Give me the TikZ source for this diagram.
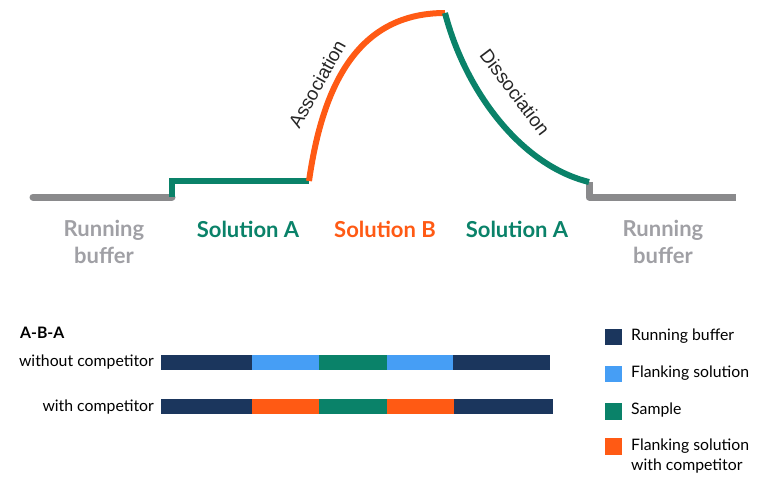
\documentclass[tikz,border=0pt]{standalone}
\usepackage{fontspec}
\setmainfont{Lato}
\newfontfamily\arialfont{Liberation Sans}
\usetikzlibrary{positioning}

\begin{document}
\begin{tikzpicture}[x=1pt,y=-1pt]
% ------------------------------------------------ sensorgram colors
\definecolor{sg_gray}{RGB}{138,138,140}   %#8A8A8C
\definecolor{sg_lgray}{RGB}{160,160,165}  %#A0A0A5
\definecolor{sg_green}{RGB}{10,130,105}   %#0A8269
\definecolor{sg_orange}{RGB}{255,90,20}   %#FF5A14
\definecolor{sg_navy}{RGB}{27,54,93}      %#1B365D
\definecolor{sg_sky}{RGB}{70,158,245}     %#469EF5

\tikzset{
  toplabel/.style={font=\fontsize{22}{27}\selectfont\bfseries, align=center, inner sep=0pt},
  rowlabel/.style={font=\fontsize{15.8}{19}\selectfont, anchor=east, inner sep=0pt},
  keylabel/.style={font=\fontsize{15.8}{20}\selectfont, anchor=west, align=left, inner sep=0pt},
  curvelabel/.style={font=\arialfont\fontsize{19}{22}\selectfont, text=black!85, inner sep=0pt}
}

\useasboundingbox (0,0) rectangle (761,485);

%
%  baseline y=197, plateau A y=181, top y=13
%
\coordinate (rb1) at (33,197);
\coordinate (stepA) at (172,197);
\coordinate (solA) at (309,181);
\coordinate (peak) at (445,13);
\coordinate (endA) at (589,182);
\coordinate (rb2) at (736,197);

% ---------------------------------------------  sensorgram trace
\draw [line width=7pt,color=sg_gray,line cap=round] (rb1) -- (stepA);
\draw [line width=7pt,color=sg_gray,line join=round] (endA) -- (589,197) -- (rb2);
\draw [line width=6.5pt,color=sg_green] (stepA) -- (172,181) -- (solA);
\draw [line width=6pt,color=sg_orange] (solA) .. controls (322,90) and (355,13) .. (peak);
\draw [line width=6pt,color=sg_green] (peak) .. controls (465,90) and (520,165) .. (endA);

\node[curvelabel,rotate=61] (assoc) at (317,84) {Association};
\node[curvelabel,rotate=-53] (dissoc) at (515,92) {Dissociation};

% ---------------------------------------------  phase labels
\node[toplabel,text=sg_lgray] (rbL) at (104,242) {Running\\buffer};
\node[toplabel,text=sg_green] (sAL) at (248,229) {Solution A};
\node[toplabel,text=sg_orange] (sB) at (385,229) {Solution B};
\node[toplabel,text=sg_green] (sAR) at (517,229) {Solution A};
\node[toplabel,text=sg_lgray] (rbR) at (663,242) {Running\\buffer};

% ---------------------------------------------  injection bars
\node[font=\fontsize{15.8}{19}\selectfont\bfseries, anchor=west, inner sep=0pt] (aba) at (20,333) {A-B-A};
\node[rowlabel] (without) at (154,362) {without competitor};
\node[rowlabel] (with) at (154,407) {with competitor};

\fill[sg_navy]   (161,355) rectangle (252,370);
\fill[sg_sky]    (252,355) rectangle (319,370);
\fill[sg_green]  (319,355) rectangle (387,370);
\fill[sg_sky]    (387,355) rectangle (453,370);
\fill[sg_navy]   (453,355) rectangle (550,370);

\fill[sg_navy]   (161,399) rectangle (252,414);
\fill[sg_orange] (252,399) rectangle (319,414);
\fill[sg_green]  (319,399) rectangle (387,414);
\fill[sg_orange] (387,399) rectangle (454,414);
\fill[sg_navy]   (454,399) rectangle (553,414);

% ---------------------------------------------  legend
\fill[sg_navy]   (605,329) rectangle (622,345);
\fill[sg_sky]    (605,366) rectangle (622,382);
\fill[sg_green]  (605,403) rectangle (622,420);
\fill[sg_orange] (605,438) rectangle (622,455);

\node[keylabel] (kRB) at (631,336) {Running buffer};
\node[keylabel] (kFS) at (631,373) {Flanking solution};
\node[keylabel] (kS)  at (631,410) {Sample};
\node[keylabel] (kFC) at (631,456) {Flanking solution\\with competitor};

\end{tikzpicture}
\end{document}
